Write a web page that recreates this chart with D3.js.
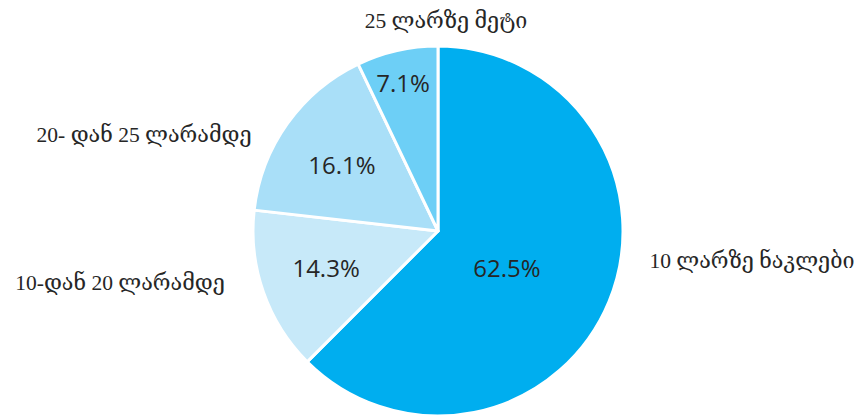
<!DOCTYPE html>
<html>
<head>
<meta charset="utf-8">
<script src="https://cdn.jsdelivr.net/npm/d3@7"></script>
<style>
  html, body { margin: 0; padding: 0; background: #fff; }
  svg { display: block; }
</style>
</head>
<body>
<svg id="chart" width="861" height="416"></svg>
<script>
// ---- data ----
const categories = ["10 ლარზე ნაკლები", "10-დან 20 ლარამდე", "20- დან 25 ლარამდე", "25 ლარზე მეტი"];
const values = [62.5, 14.3, 16.1, 7.1];
const valueLabels = ["62.5%", "14.3%", "16.1%", "7.1%"];

// ---- style / layout (not data) ----
const colors = ["#00AEEF", "#C7E9F9", "#A9DFF8", "#6DCFF6"];
const W = 861, H = 416;
const cx = 438, cy = 231, R = 185;
// label placement offsets relative to the pie centre, in units of the radius
const innerOffsets = [[0.373, 0.195], [-0.605, 0.195], [-0.519, -0.362], [-0.189, -0.805]];
const outerOffsets = [[1.697, 0.2], [-1.719, 0.319], [-1.589, -0.481], [0.043, -1.097]];

const svg = d3.select("#chart");
const g = svg.append("g").attr("transform", `translate(${cx},${cy})`);

const pie = d3.pie().sort(null).value(d => d)(values);
const arc = d3.arc().innerRadius(0).outerRadius(R);

g.selectAll("path.slice")
  .data(pie)
  .join("path")
  .attr("class", "slice")
  .attr("d", arc)
  .attr("fill", (d, i) => colors[i])
  .attr("stroke", "#fff")
  .attr("stroke-width", 3)
  .attr("stroke-linejoin", "round");

g.selectAll("text.val")
  .data(pie)
  .join("text")
  .attr("class", "val")
  .attr("x", (d, i) => innerOffsets[i][0] * R)
  .attr("y", (d, i) => innerOffsets[i][1] * R)
  .attr("text-anchor", "middle")
  .attr("dominant-baseline", "central")
  .attr("font-family", "'Open Sans', 'Noto Sans', sans-serif")
  .attr("font-size", 24)
  .attr("fill", "#262626")
  .text((d, i) => valueLabels[i]);

g.selectAll("text.cat")
  .data(pie)
  .join("text")
  .attr("class", "cat")
  .attr("x", (d, i) => outerOffsets[i][0] * R)
  .attr("y", (d, i) => outerOffsets[i][1] * R)
  .attr("text-anchor", "middle")
  .attr("font-family", "'Liberation Serif', 'DejaVu Serif', serif")
  .attr("font-size", 21.5)
  .attr("fill", "#262626")
  .text((d, i) => categories[i]);
</script>
</body>
</html>
